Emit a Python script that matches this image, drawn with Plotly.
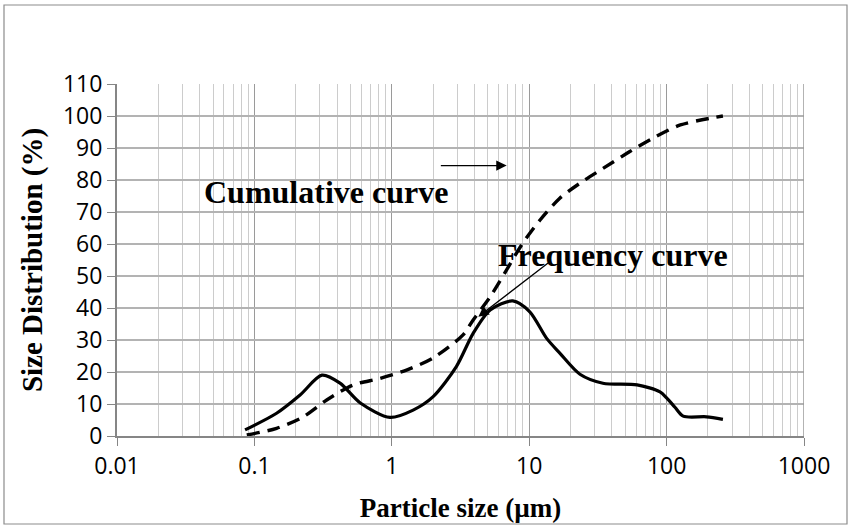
import plotly.graph_objects as go

# ---- data ----
freq_x = [0.0855, 0.145, 0.215, 0.31, 0.42, 0.59, 0.97, 1.43, 2.0, 2.95, 3.9, 5.2, 7.6, 10.1, 13.4, 16.7, 23.4, 34.4, 61, 89.5, 100, 115, 132, 195, 257]
freq_y = [1.9, 7.1, 12.8, 19.0, 16.5, 10.3, 5.8, 8.1, 12.3, 21.7, 32.0, 39.4, 42.2, 38.8, 30.5, 25.9, 19.3, 16.5, 16.0, 13.8, 11.9, 9.0, 6.2, 6.0, 5.2]

cum_x = [0.088, 0.145, 0.227, 0.336, 0.52, 0.82, 1.28, 2.0, 3.3, 3.9, 5.2, 6.85, 8.8, 12, 16.7, 23.4, 34.4, 54, 79, 126, 257]
cum_y = [0.3, 2.4, 6.0, 11.25, 15.9, 18.0, 20.6, 24.4, 31.6, 36.2, 43.5, 51.9, 59.7, 67.5, 74.3, 79.0, 83.6, 88.9, 93.0, 97.2, 100.0]

x_tick_vals = [0.01, 0.1, 1, 10, 100, 1000]
x_tick_text = ["0.01", "0.1", "1", "10", "100", "1000"]
y_tick_vals = list(range(0, 111, 10))

minor_vals = [m * 10.0 ** e for e in range(-2, 3) for m in range(2, 10)]

fig = go.Figure()
fig.add_trace(go.Scatter(x=freq_x, y=freq_y, mode="lines",
                         line=dict(color="black", width=3.2, shape="spline", smoothing=0.8),
                         showlegend=False, hoverinfo="skip"))
fig.add_trace(go.Scatter(x=cum_x, y=cum_y, mode="lines",
                         line=dict(color="black", width=3.4, dash="13px,8px", shape="spline", smoothing=0.8),
                         showlegend=False, hoverinfo="skip"))

L, R, T, B = 117, 45, 84, 91
W, H = 849, 527
pw, ph = W - L - R, H - T - B

tick_font = dict(family="Open Sans", size=23, color="black")

fig.update_layout(
    width=W, height=H,
    margin=dict(l=L, r=R, t=T, b=B),
    paper_bgcolor="white", plot_bgcolor="white",
    xaxis=dict(type="log", range=[-2, 3], tickmode="array", tickvals=x_tick_vals, ticktext=x_tick_text,
               automargin=False,
               showgrid=True, gridcolor="#9a9a9a", gridwidth=1,
               showline=True, linecolor="#868686", linewidth=2, mirror=False,
               ticks="outside", ticklen=8, tickcolor="#868686", tickwidth=1,
               tickfont=tick_font,
               minor=dict(tickmode="array", tickvals=minor_vals, showgrid=True, gridcolor="#cccccc", gridwidth=1, ticks=""),
               title=dict(text="<b>Particle size (µm)</b>", font=dict(family="Liberation Serif", size=27, color="black"), standoff=19),
               zeroline=False),
    yaxis=dict(range=[0, 110], tickmode="array", tickvals=y_tick_vals,
               automargin=False,
               showgrid=True, gridcolor="#b3b3b3", gridwidth=1.5,
               showline=True, linecolor="#868686", linewidth=2,
               ticks="outside", ticklen=8, tickcolor="#868686", tickwidth=1,
               tickfont=tick_font,
               title=dict(text="<b>Size Distribution (%)</b>", font=dict(family="Liberation Serif", size=29, color="black"), standoff=12),
               zeroline=False),
    shapes=[
        dict(type="rect", xref="paper", yref="paper",
             x0=(4 - L) / pw, x1=(847 - L) / pw, y0=-(524 - (H - B)) / ph, y1=(H - B - 5) / ph,
             line=dict(color="#8c8c8c", width=1.2), fillcolor="rgba(0,0,0,0)", layer="below"),
        dict(type="line", xref="x", yref="y", x0=1000, x1=1000, y0=0, y1=110,
             line=dict(color="#9a9a9a", width=1.5)),
    ],
    annotations=[
        dict(x=-0.476, y=76.3, xref="x", yref="y", text="<b>Cumulative curve</b>", showarrow=False,
             font=dict(family="Liberation Serif", size=32, color="black")),
        dict(x=1.61, y=56.6, xref="x", yref="y", text="<b>Frequency curve</b>", showarrow=False,
             font=dict(family="Liberation Serif", size=32, color="black")),
        dict(x=0.836, y=84.5, ax=0.346, ay=84.5, xref="x", yref="y", axref="x", ayref="y",
             text="", showarrow=True, arrowhead=2, arrowsize=1.6, arrowwidth=1.3, arrowcolor="black"),
        dict(x=0.63, y=37.3, ax=1.151, ay=54.5, xref="x", yref="y", axref="x", ayref="y",
             text="", showarrow=True, arrowhead=2, arrowsize=1.6, arrowwidth=1.3, arrowcolor="black"),
    ],
)

fig.write_html("out.html", config={"displayModeBar": False},
               post_script="document.body.style.margin='0';document.body.style.padding='0';")
